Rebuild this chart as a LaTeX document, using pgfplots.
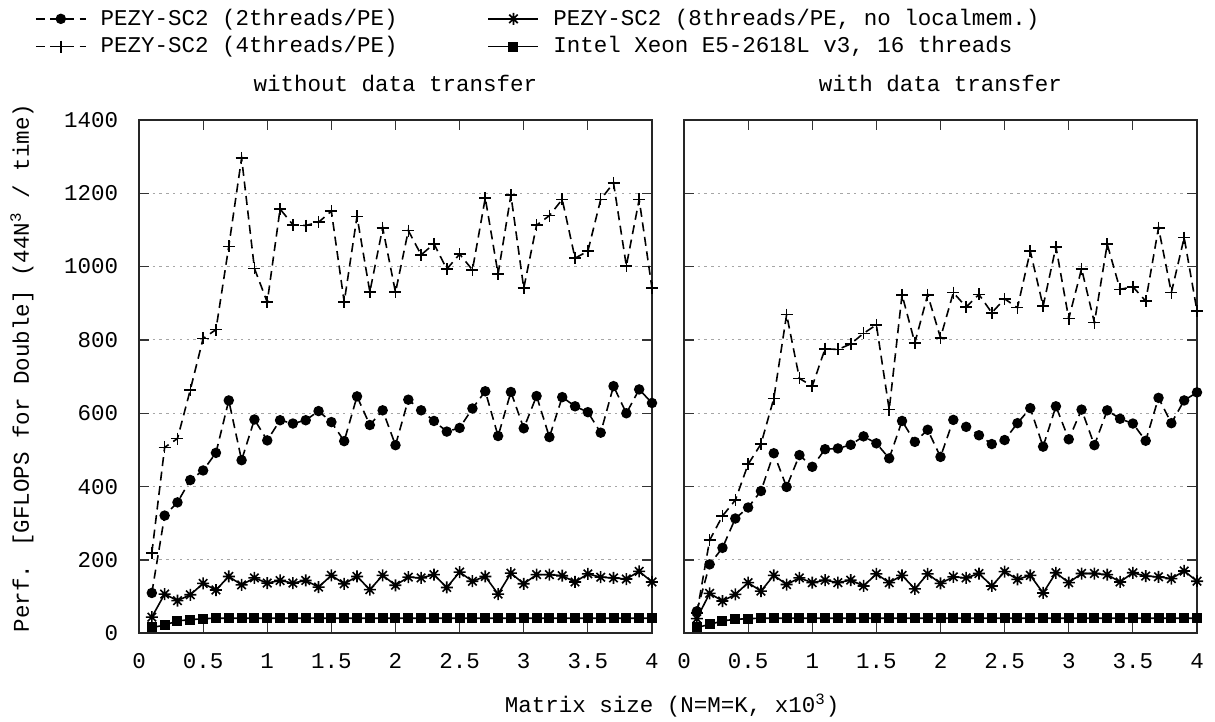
\documentclass[border=0pt]{standalone}
\usepackage{fontspec}
\setmainfont{Liberation Mono}
\usepackage{pgfplots}
\usepackage{pgfplotstable}
\pgfplotsset{compat=1.18}

% gnuplot-like star: plus and cross together
\pgfdeclareplotmark{gstar}{%
  \pgfpathmoveto{\pgfqpoint{-\pgfplotmarksize}{0pt}}%
  \pgfpathlineto{\pgfqpoint{\pgfplotmarksize}{0pt}}%
  \pgfpathmoveto{\pgfqpoint{0pt}{-\pgfplotmarksize}}%
  \pgfpathlineto{\pgfqpoint{0pt}{\pgfplotmarksize}}%
  \pgfpathmoveto{\pgfqpoint{-.7071\pgfplotmarksize}{-.7071\pgfplotmarksize}}%
  \pgfpathlineto{\pgfqpoint{.7071\pgfplotmarksize}{.7071\pgfplotmarksize}}%
  \pgfpathmoveto{\pgfqpoint{-.7071\pgfplotmarksize}{.7071\pgfplotmarksize}}%
  \pgfpathlineto{\pgfqpoint{.7071\pgfplotmarksize}{-.7071\pgfplotmarksize}}%
  \pgfusepathqstroke}

% without data transfer
\pgfplotstableread{
x   p2  p4   p8  intel
0.1 110 219  44  16
0.2 321 507  107 22
0.3 357 531  89  34
0.4 418 664  105 37
0.5 444 804  136 40
0.6 492 828  118 41
0.7 635 1055 155 41
0.8 472 1296 132 41
0.9 583 995  151 41
1.0 526 903  137 41
1.1 581 1157 144 41
1.2 572 1114 137 41
1.3 581 1112 144 41
1.4 606 1121 126 41
1.5 576 1151 158 41
1.6 524 903  135 41
1.7 646 1137 155 41
1.8 568 931  119 41
1.9 608 1106 158 41
2.0 513 930  131 41
2.1 637 1098 153 41
2.2 608 1032 151 41
2.3 579 1062 160 41
2.4 550 993  125 41
2.5 560 1034 167 41
2.6 613 991  142 41
2.7 660 1187 155 41
2.8 538 980  107 41
2.9 658 1195 164 41
3.0 559 941  135 41
3.1 647 1113 160 41
3.2 535 1139 160 41
3.3 644 1183 157 41
3.4 619 1023 140 41
3.5 603 1042 162 41
3.6 547 1183 153 41
3.7 674 1228 151 41
3.8 600 1002 148 41
3.9 665 1183 169 41
4.0 628 941  140 41
}\nodata

% with data transfer
\pgfplotstableread{
x   p2  p4   p8  intel
0.1 60  55   40  16
0.2 188 254  109 24
0.3 233 320  88  34
0.4 313 363  106 38
0.5 343 461  138 40
0.6 388 516  115 41
0.7 491 640  158 41
0.8 399 869  133 41
0.9 486 695  151 41
1.0 454 674  138 41
1.1 502 776  145 41
1.2 504 774  138 41
1.3 514 789  145 41
1.4 537 818  129 41
1.5 518 841  162 41
1.6 477 610  138 41
1.7 579 923  158 41
1.8 522 792  121 41
1.9 555 923  162 41
2.0 481 806  136 41
2.1 582 929  154 41
2.2 563 890  151 41
2.3 540 924  163 41
2.4 516 874  129 41
2.5 527 912  168 41
2.6 573 888  147 41
2.7 614 1042 158 41
2.8 509 892  110 41
2.9 619 1054 165 41
3.0 529 858  138 41
3.1 610 994  163 41
3.2 513 847  163 41
3.3 608 1061 160 41
3.4 585 938  140 41
3.5 572 945  165 41
3.6 525 906  156 41
3.7 642 1106 154 41
3.8 573 929  149 41
3.9 635 1079 170 41
4.0 657 879  142 41
}\withdata

\pgfplotsset{
  panel/.style={
    scale only axis, width=256.5pt, height=256.7pt,
    xmin=0, xmax=4, ymin=0, ymax=1400,
    xtick={0,0.5,1,1.5,2,2.5,3,3.5,4},
    ytick={0,200,400,600,800,1000,1200,1400},
    /pgf/number format/assume math mode=true,
    /pgf/number format/1000 sep={},
    tick align=inside, major tick length=5pt,
    every tick/.style={black!80, line width=0.6pt},
    axis line style={black!85, line width=1pt},
    ymajorgrids,
    major grid style={gray!70, line width=0.5pt, dash pattern=on 1.2pt off 2.2pt},
    xticklabel style={yshift=-6pt},
    yticklabel style={xshift=-6.5pt},
    title style={at={(0.5,1)}, anchor=center, yshift=12pt},
  },
  s2/.style={black, line width=0.8pt, dash pattern=on 4.5pt off 2.8pt, mark=*, mark size=2.2pt, mark options={solid}},
  s4/.style={black, line width=0.8pt, dash pattern=on 4.5pt off 2.8pt, mark=+, mark size=3pt, mark options={solid}},
  s8/.style={black, line width=0.8pt, solid, mark=gstar, mark size=3pt},
  sI/.style={black, line width=0.8pt, solid, mark=square*, mark size=2.1pt},
}

\begin{document}
\fontsize{11.25}{13.5}\selectfont
\begin{tikzpicture}
\useasboundingbox (0,0) rectangle (607.5pt,361pt);

\begin{axis}[panel, at={(69.5pt,44.35pt)}, anchor=south west,
  title={without data transfer},
  legend columns=2,
  legend cell align=left,
  legend image code/.code={\draw[mark repeat=2,mark phase=2,#1] plot coordinates {(0pt,0pt) (12.5pt,0pt) (25pt,0pt)};},
  legend style={at={(-0.2027,1.216)}, anchor=north west, draw=none, fill=none,
    inner sep=0pt, outer sep=0pt, row sep=4pt, column sep=7pt,
    /tikz/every even column/.append style={column sep=45pt},
    nodes={inner sep=0pt}},
]
\addplot[s2] table[x=x, y=p2] {\nodata};
\addlegendentry{PEZY-SC2 (2threads/PE)}
\addplot[s8] table[x=x, y=p8] {\nodata};
\addlegendentry{PEZY-SC2 (8threads/PE, no localmem.)}
\addplot[s4] table[x=x, y=p4] {\nodata};
\addlegendentry{PEZY-SC2 (4threads/PE)}
\addplot[sI] table[x=x, y=intel] {\nodata};
\addlegendentry{Intel Xeon E5-2618L v3, 16 threads}
\end{axis}

\begin{axis}[panel, at={(342pt,44.35pt)}, anchor=south west,
  title={with data transfer},
  yticklabels={},
]
\addplot[s2] table[x=x, y=p2] {\withdata};
\addplot[s8] table[x=x, y=p8] {\withdata};
\addplot[s4] table[x=x, y=p4] {\withdata};
\addplot[sI] table[x=x, y=intel] {\withdata};
\end{axis}

\node[rotate=90] at (11pt,177pt) {Perf. [GFLOPS for Double] (44N\textsuperscript{3} / time)};
\node at (336pt,8pt) {Matrix size (N=M=K, x10\textsuperscript{3})};
\end{tikzpicture}
\end{document}
